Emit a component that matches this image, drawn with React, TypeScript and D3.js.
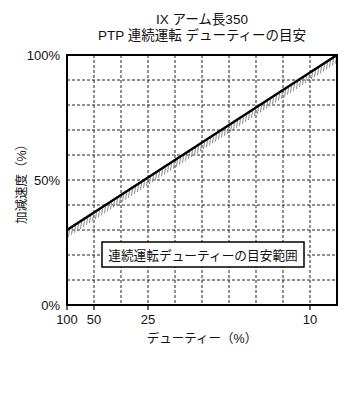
import React from "react";
import * as d3 from "d3";

const titleLines = ["IX アーム長350", "PTP 連続運転 デューティーの目安"];
const dutyTicks = [100, 50, 25, 10];
const accelTicks = [0, 50, 100];
const lineDuty = [100, 50, 25, 10, 100 / 11];
const lineAccel = [30, 37, 51, 93, 100];
const boxLabel = "連続運転デューティーの目安範囲";
const yTitle = "加減速度（%）";
const xTitle = "デューティー（%）";

const FONT = "'Liberation Sans', Arial, 'Noto Sans CJK JP', sans-serif";

export default function App() {
  const W = 353, H = 410;
  const L = 67, R = 337, T = 55, B = 305;
  const x = d3.scaleLinear().domain([0.01, 0.11]).range([L, R]);
  const y = d3.scaleLinear().domain([0, 100]).range([B, T]);
  const pts: [number, number][] = lineDuty.map((d, i) => [x(1 / d), y(lineAccel[i])]);
  const line = d3.line()(pts) || "";
  const vGrid = d3.range(1, 10).map((k) => x(0.01 + k * 0.01));
  const hGrid = d3.range(10, 100, 10).map((v) => y(v));

  const interp = (px: number) => {
    for (let i = 0; i < pts.length - 1; i++) {
      const [x0, y0] = pts[i];
      const [x1, y1] = pts[i + 1];
      if (px >= x0 && px <= x1) return y0 + ((px - x0) / (x1 - x0)) * (y1 - y0);
    }
    return pts[pts.length - 1][1];
  };
  const hatches: [number, number, number, number][] = [];
  for (let px = L + 2; px <= R - 1; px += 3) {
    const py = interp(px);
    hatches.push([px + 0.5, py + 1, px - 0.5, py + 8]);
  }

  return (
    <svg width={W} height={H} style={{ display: "block", position: "absolute", left: 0, top: 0 }} fontFamily={FONT}>
      <rect width={W} height={H} fill="#fff" />
      {titleLines.map((t, i) => (
        <text key={i} x={202} y={24 + i * 16} textAnchor="middle" fontSize={13.5} fill="#111">{t}</text>
      ))}
      <defs>
        <clipPath id="pc"><rect x={L} y={T} width={R - L} height={B - T} /></clipPath>
      </defs>
      {vGrid.map((gx, i) => (
        <line key={"v" + i} x1={gx} x2={gx} y1={T} y2={B} stroke="#222" strokeWidth={1} strokeDasharray="3,2" />
      ))}
      {hGrid.map((gy, i) => (
        <line key={"h" + i} x1={L} x2={R} y1={gy} y2={gy} stroke="#222" strokeWidth={1} strokeDasharray="3,2" />
      ))}
      <g clipPath="url(#pc)">
        {hatches.map((h, i) => (
          <line key={"k" + i} x1={h[0]} y1={h[1]} x2={h[2]} y2={h[3]} stroke="#888" strokeWidth={1} />
        ))}
        <path d={line} fill="none" stroke="#000" strokeWidth={2.5} />
      </g>
      <rect x={L} y={T} width={R - L} height={B - T} fill="none" stroke="#000" strokeWidth={2} />
      {dutyTicks.map((d, i) => (
        <g key={"xt" + i}>
          <line x1={x(1 / d)} x2={x(1 / d)} y1={B} y2={B + 5} stroke="#000" strokeWidth={1.2} />
          <text x={x(1 / d)} y={324} textAnchor="middle" fontSize={13} fill="#111">{d}</text>
        </g>
      ))}
      {accelTicks.map((v, i) => (
        <text key={"yt" + i} x={60} y={y(v) + 4.5} textAnchor="end" fontSize={13} fill="#111">{v}%</text>
      ))}
      <text transform={`translate(26,181) rotate(-90)`} textAnchor="middle" fontSize={12.5} fill="#111">{yTitle}</text>
      <text x={202} y={343} textAnchor="middle" fontSize={12.5} fill="#111">{xTitle}</text>
      <rect x={102} y={242} width={202} height={25} fill="#fff" stroke="#000" strokeWidth={1.5} />
      <text x={203} y={259.5} textAnchor="middle" fontSize={12.7} fill="#111">{boxLabel}</text>
    </svg>
  );
}
